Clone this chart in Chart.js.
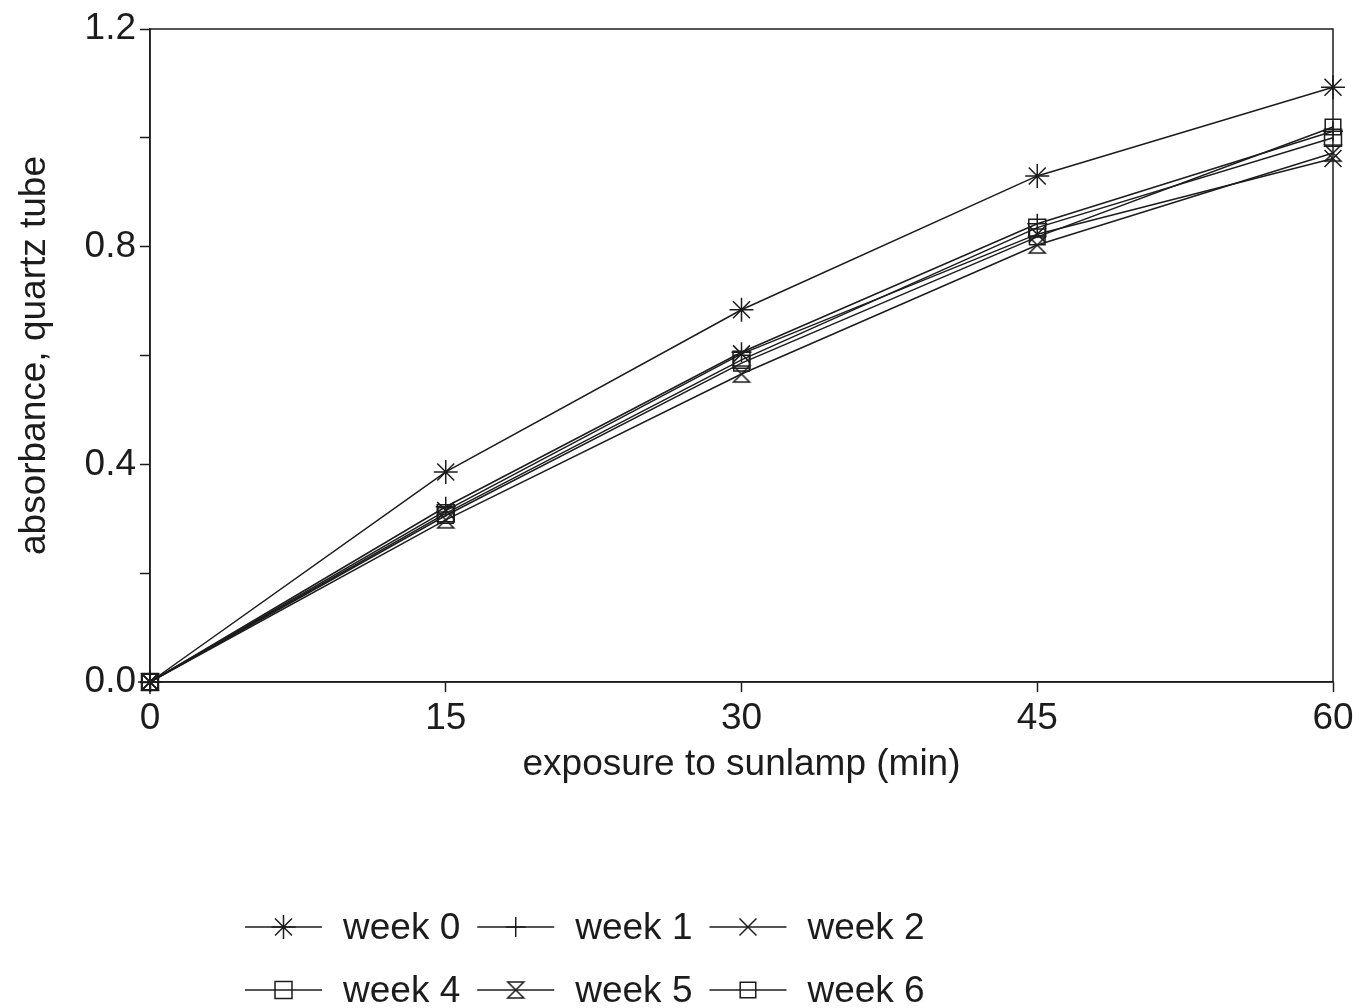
<!DOCTYPE html>
<html>
<head>
<meta charset="utf-8">
<script src="https://cdn.jsdelivr.net/npm/chart.js@4.4.0/dist/chart.umd.min.js"></script>
<style>
    html, body { margin: 0; padding: 0; background: #ffffff; }
    #wrap { width: 1359px; height: 1008px; }
</style>
</head>
<body>
<div id="wrap"><canvas id="chart" width="1359" height="1008"></canvas></div>
<script>
    var minutes = [0, 15, 30, 45, 60];

    var week0 = [0, 0.386, 0.684, 0.930, 1.093];
    var week1 = [0, 0.322, 0.606, 0.842, 1.012];
    var week2 = [0, 0.315, 0.603, 0.823, 0.962];
    var week4 = [0, 0.310, 0.592, 0.835, 1.000];
    var week5 = [0, 0.298, 0.566, 0.803, 0.972];
    var week6 = [0, 0.306, 0.586, 0.818, 1.020];

    var seriesNames = ['week 0', 'week 1', 'week 2', 'week 4', 'week 5', 'week 6'];
    var seriesValues = [week0, week1, week2, week4, week5, week6];

    var yLabelled = ['0.0', '0.4', '0.8', '1.2'];

    var ink = '#1c1c1c';
    var fontFamily = '"Liberation Sans", Arial, Helvetica, sans-serif';
    var fontSize = 37;

    /*
    ----------------------------------
         Hourglass marker for week 5
    ----------------------------------
    */

    function makeHourglass(size) {
        var c = document.createElement('canvas');
        c.width = size;
        c.height = size;
        var g = c.getContext('2d');
        var p = 2;
        g.strokeStyle = ink;
        g.lineWidth = 1.5;
        g.beginPath();
        g.moveTo(p, p);
        g.lineTo(size - p, p);
        g.lineTo(p, size - p);
        g.lineTo(size - p, size - p);
        g.closePath();
        g.stroke();
        return c;
    }

    var hourglass = makeHourglass(20);

    var markers = [
        { pointStyle: 'star', radius: 12 },
        { pointStyle: 'cross', radius: 10 },
        { pointStyle: 'crossRot', radius: 12 },
        { pointStyle: 'rect', radius: 12 },
        { pointStyle: hourglass, radius: 10 },
        { pointStyle: 'rect', radius: 11 }
    ];

    var dataSet = [];

    seriesValues.forEach(function (values, index) {
        var points = [];
        for (var i = 0; i < minutes.length; i++) {
            points.push({ x: minutes[i], y: values[i] });
        }
        dataSet.push({
            label: seriesNames[index],
            data: points,
            borderColor: ink,
            borderWidth: 1.5,
            backgroundColor: 'rgba(0,0,0,0)',
            pointStyle: markers[index].pointStyle,
            pointRadius: markers[index].radius,
            pointBorderColor: ink,
            pointBackgroundColor: 'rgba(0,0,0,0)',
            pointBorderWidth: 1.5,
            tension: 0,
            clip: false
        });
    });

    /*
    ----------------------------------
         Frame round the plot area
    ----------------------------------
    */

    var framePlugin = {
        id: 'frame',
        beforeDatasetsDraw: function (chart) {
            var a = chart.chartArea;
            var ctx = chart.ctx;
            ctx.save();
            ctx.strokeStyle = ink;
            ctx.lineWidth = 1.5;
            ctx.strokeRect(a.left, a.top, a.right - a.left, a.bottom - a.top);
            ctx.restore();
        }
    };

    /*
    ----------------------------------
         Legend, two rows of three
    ----------------------------------
    */

    var legendPlugin = {
        id: 'rowLegend',
        afterDraw: function (chart) {
            var ctx = chart.ctx;
            var rows = [927, 990];
            var lineLen = 77;
            ctx.save();
            ctx.font = fontSize + 'px ' + fontFamily;
            ctx.textBaseline = 'middle';
            for (var r = 0; r < rows.length; r++) {
                var x = 245;
                for (var k = 0; k < 3; k++) {
                    var idx = r * 3 + k;
                    var ds = chart.data.datasets[idx];
                    var y = rows[r];
                    ctx.strokeStyle = ink;
                    ctx.lineWidth = 1.5;
                    ctx.beginPath();
                    ctx.moveTo(x, y);
                    ctx.lineTo(x + lineLen, y);
                    ctx.stroke();
                    ctx.fillStyle = 'rgba(0,0,0,0)';
                    Chart.helpers.drawPoint(ctx, {
                        pointStyle: ds.pointStyle,
                        radius: ds.pointRadius,
                        rotation: 0,
                        borderWidth: 1.5
                    }, x + lineLen / 2, y);
                    ctx.fillStyle = ink;
                    ctx.fillText(ds.label, x + lineLen + 21, y + 2);
                    x += lineLen + 21 + ctx.measureText(ds.label).width + 17;
                }
            }
            ctx.restore();
        }
    };

    new Chart(document.getElementById('chart'), {
        type: 'line',
        data: {
            datasets: dataSet
        },
        plugins: [framePlugin, legendPlugin],
        options: {
            responsive: false,
            animation: false,
            devicePixelRatio: 1,
            layout: {
                padding: { top: 29, right: 26, bottom: 213, left: 0 }
            },
            plugins: {
                legend: { display: false },
                tooltip: { enabled: false }
            },
            scales: {
                x: {
                    type: 'linear',
                    min: 0,
                    max: 60,
                    afterFit: function (scale) { scale.height = 113; },
                    ticks: {
                        stepSize: 15,
                        color: ink,
                        padding: 5,
                        maxRotation: 0,
                        font: { family: fontFamily, size: fontSize }
                    },
                    grid: {
                        drawOnChartArea: false,
                        tickLength: 10,
                        tickWidth: 1.5,
                        color: ink
                    },
                    border: { color: ink, width: 1.5 },
                    title: {
                        display: true,
                        text: 'exposure to sunlamp (min)',
                        color: ink,
                        padding: { top: 8, bottom: 8 },
                        font: { family: fontFamily, size: fontSize }
                    }
                },
                y: {
                    type: 'linear',
                    min: 0,
                    max: 1.2,
                    afterFit: function (scale) { scale.width = 150; },
                    ticks: {
                        stepSize: 0.2,
                        color: ink,
                        padding: 4,
                        font: { family: fontFamily, size: fontSize },
                        callback: function (value) {
                            var v = Math.round(value * 10) / 10;
                            var label = v.toFixed(1);
                            return yLabelled.includes(label) ? label : '';
                        }
                    },
                    grid: {
                        drawOnChartArea: false,
                        tickLength: 10,
                        tickWidth: 1.5,
                        color: ink
                    },
                    border: { color: ink, width: 1.5 },
                    title: {
                        display: true,
                        text: 'absorbance, quartz tube',
                        color: ink,
                        padding: { top: 13, bottom: 4 },
                        font: { family: fontFamily, size: fontSize }
                    }
                }
            }
        }
    });
</script>
</body>
</html>
